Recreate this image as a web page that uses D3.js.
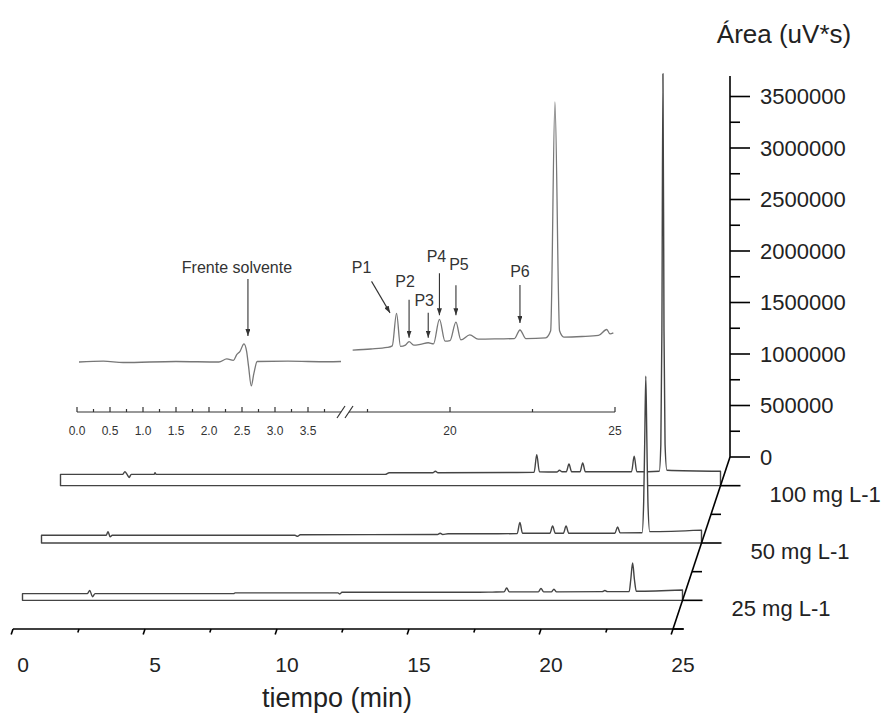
<!DOCTYPE html>
<html>
<head>
<meta charset="utf-8">
<script src="https://cdn.jsdelivr.net/npm/d3@7"></script>
<style>
  body { margin: 0; background: #fff; }
  text { font-family: "Liberation Sans", Arial, sans-serif; }
</style>
</head>
<body>
<div id="chart"></div>
<script>
// data
const timeTicks = [0, 5, 10, 15, 20, 25];
const areaTicks = [0, 500000, 1000000, 1500000, 2000000, 2500000, 3000000, 3500000];
const seriesNames = ["25 mg L-1", "50 mg L-1", "100 mg L-1"];

// [tiempo (min), area (uV*s)]
const trace25 = [[0,65000],[2.45,65000],[2.55,95000],[2.65,35000],[2.75,65000],[8.0,65000],[8.05,72000],
  [11.95,72000],[12.02,62000],[12.1,78000],[17.3,78000],[17.8,80000],[18.24,82000],[18.34,120000],[18.44,82000],
  [19.54,82000],[19.64,115000],[19.74,82000],[20.03,82000],[20.13,108000],[20.23,82000],[21.96,85000],
  [22.06,95000],[22.16,85000],[22.98,85000],[23.04,200000],[23.11,362000],[23.18,200000],[23.25,88000],[25,100000]];
const trace50 = [[0,75000],[2.45,75000],[2.52,110000],[2.6,60000],[2.68,75000],[9.6,75000],[9.7,65000],[9.8,80000],
  [15.0,82000],[15.1,95000],[15.2,82000],[15.4,90000],[17.3,90000],[18.02,92000],[18.12,200000],[18.22,95000],
  [19.26,95000],[19.36,165000],[19.46,95000],[19.77,95000],[19.87,165000],[19.97,95000],[21.72,95000],
  [21.82,155000],[21.92,98000],[22.75,100000],[22.81,400000],[22.85,1000000],[22.89,1620000],[22.93,1000000],
  [22.97,400000],[23.04,110000],[25,125000]];
const trace100 = [[0,110000],[2.35,110000],[2.44,135000],[2.52,110000],[2.6,80000],[2.68,110000],[3.55,110000],
  [3.58,125000],[3.62,110000],[12.3,110000],[12.45,125000],[14.1,125000],[14.2,140000],[14.3,125000],
  [17.0,128000],[17.94,130000],[18.04,300000],[18.14,135000],[18.8,132000],[18.9,150000],[19.0,135000],
  [19.16,135000],[19.26,210000],[19.36,135000],[19.68,135000],[19.78,220000],[19.88,135000],[21.63,135000],
  [21.73,285000],[21.83,135000],[22.68,140000],[22.74,400000],[22.78,1500000],[22.82,4000000],[22.86,1500000],
  [22.9,400000],[22.97,150000],[25,140000]];

// inset: [tiempo (min), respuesta]
const insetTicksA = [0, 0.5, 1.0, 1.5, 2.0, 2.5, 3.0, 3.5];
const insetTicksB = [20, 25];
const insetSolvent = [[0.03,0],[0.4,0.3],[0.7,-0.2],[1.5,0.2],[2.15,0],[2.27,1.2],[2.37,0.6],[2.42,2.8],
  [2.47,4.1],[2.53,7.0],[2.57,4.1],[2.6,-1.8],[2.64,-9.2],[2.68,-4.4],[2.73,0.2],[3.2,0.3],[3.8,0.1],[4.0,0.2]];
const insetPeaks = [[17.05,4.6],[17.6,5.0],[18.1,5.6],[18.25,6.2],[18.38,18.7],[18.5,6.0],[18.65,6.5],[18.76,7.8],
  [18.9,6.5],[19.1,6.8],[19.34,7.4],[19.5,7.0],[19.68,16.4],[19.85,8.0],[20.0,8.2],[20.18,15.3],[20.33,8.5],
  [20.6,10.4],[20.85,8.8],[21.5,8.9],[21.95,9.0],[22.12,12.3],[22.3,9.0],[22.9,9.3],[23.05,12],[23.18,100],
  [23.32,12],[23.45,9.6],[24.0,9.8],[24.5,10.2],[24.75,12.5],[24.85,10.8],[24.95,11.2]];
const peakNames = ["P1", "P2", "P3", "P4", "P5", "P6"];
const peakTimes = [18.38, 18.76, 19.34, 19.68, 20.18, 22.12];
const solventTime = 2.59;

// canvas
const width = 881, height = 713;
const svg = d3.select("#chart").append("svg")
    .attr("width", width)
    .attr("height", height);

// 3D oblique projection
const y0 = 629;
const xScale = d3.scaleLinear().domain([0, 25]).range([13, 673]);
const depthX = d3.scaleLinear().domain([0, 1]).range([0, 57]);
const depthY = d3.scaleLinear().domain([0, 1]).range([0, 172]);
const zScale = d3.scaleLinear().domain([0, 3500000]).range([0, 360.5]);
const px = (t, d) => xScale(t) + depthX(d);
const py = (d, z) => y0 - depthY(d) - zScale(z);

const depths = [1/6, 1/2, 5/6];
const traces = [trace25, trace50, trace100];

// arrow marker
svg.append("defs").append("marker")
    .attr("id", "arrow")
    .attr("viewBox", "0 0 10 10")
    .attr("refX", 10).attr("refY", 5)
    .attr("markerUnits", "userSpaceOnUse")
    .attr("markerWidth", 7).attr("markerHeight", 5)
    .attr("preserveAspectRatio", "none")
    .attr("orient", "auto")
    .append("path")
    .attr("d", "M0,0 L10,5 L0,10 Z")
    .attr("fill", "#333");

// ---- inset chromatogram ----
const inset = svg.append("g");
const ix1 = d3.scaleLinear().domain([0, 3.95]).range([77, 337.7]);
const ix2 = d3.scaleLinear().domain([17, 25]).range([351, 615]);
const iy = d3.scaleLinear().domain([0, 100]).range([362, 102]);
const axisY = 412;
const smooth = d3.curveMonotoneX;

inset.append("path")
    .attr("d", d3.line().curve(smooth).x(d => ix1(d[0])).y(d => iy(d[1]))(insetSolvent))
    .attr("fill", "none").attr("stroke", "#777").attr("stroke-width", 1.3);
inset.append("path")
    .attr("d", d3.line().curve(smooth).x(d => ix2(d[0])).y(d => iy(d[1]))(insetPeaks))
    .attr("fill", "none").attr("stroke", "#777").attr("stroke-width", 1.3);

// inset axis, broken
inset.append("line").attr("x1", ix1(0)).attr("x2", 341).attr("y1", axisY).attr("y2", axisY)
    .attr("stroke", "#333").attr("stroke-width", 1.2);
inset.append("line").attr("x1", 349).attr("x2", ix2(25)).attr("y1", axisY).attr("y2", axisY)
    .attr("stroke", "#333").attr("stroke-width", 1.2);
[337, 345].forEach(bx => {
    inset.append("line").attr("x1", bx).attr("y1", axisY + 6).attr("x2", bx + 8).attr("y2", axisY - 6)
        .attr("stroke", "#333").attr("stroke-width", 1.2);
});

const minorA = d3.range(0, 3.9, 0.25);
inset.selectAll(".tA").data(minorA).enter().append("line")
    .attr("x1", d => ix1(d)).attr("x2", d => ix1(d))
    .attr("y1", axisY).attr("y2", d => axisY - (d % 0.5 === 0 ? 5 : 3))
    .attr("stroke", "#333").attr("stroke-width", 1.2);
inset.selectAll(".tB").data([17.5, 20, 22.5, 25]).enter().append("line")
    .attr("x1", d => ix2(d)).attr("x2", d => ix2(d))
    .attr("y1", axisY).attr("y2", d => axisY - (d % 5 === 0 ? 5 : 3))
    .attr("stroke", "#333").attr("stroke-width", 1.2);

inset.selectAll(".lA").data(insetTicksA).enter().append("text")
    .attr("x", d => ix1(d)).attr("y", 435)
    .attr("text-anchor", "middle").attr("font-size", 12).attr("fill", "#333")
    .text(d => d3.format(".1f")(d));
inset.selectAll(".lB").data(insetTicksB).enter().append("text")
    .attr("x", d => ix2(d)).attr("y", 435)
    .attr("text-anchor", "middle").attr("font-size", 12).attr("fill", "#333")
    .text(d => d);

// solvent front annotation
const sx = ix1(solventTime);
inset.append("line").attr("x1", sx).attr("x2", sx).attr("y1", 279).attr("y2", 336)
    .attr("stroke", "#333").attr("stroke-width", 1.1).attr("marker-end", "url(#arrow)");
inset.append("text").attr("x", sx - 11).attr("y", 273)
    .attr("text-anchor", "middle").attr("font-size", 16).attr("fill", "#333")
    .text("Frente solvente");

// peak annotations: offsets from peak top (tip, tail, label)
const noteLayout = [
    { tip: [-6.5, -0.5], tail: [-25, -32], label: [-35, -40] },
    { tip: [0, -4], tail: [0, -42], label: [-4, -55] },
    { tip: [0, -5], tail: [0, -30], label: [-4, -37] },
    { tip: [0, -4], tail: [0, -46], label: [-3, -57] },
    { tip: [0, -7], tail: [0, -37], label: [3, -52] },
    { tip: [0, -7], tail: [0, -45], label: [0, -53] }
];
peakNames.forEach((name, i) => {
    const pk = insetPeaks.find(p => p[0] === peakTimes[i]);
    const x = ix2(pk[0]), y = iy(pk[1]);
    const L = noteLayout[i];
    inset.append("line")
        .attr("x1", x + L.tail[0]).attr("y1", y + L.tail[1])
        .attr("x2", x + L.tip[0]).attr("y2", y + L.tip[1])
        .attr("stroke", "#333").attr("stroke-width", 1.1).attr("marker-end", "url(#arrow)");
    inset.append("text")
        .attr("x", x + L.label[0]).attr("y", y + L.label[1])
        .attr("text-anchor", "middle").attr("font-size", 16).attr("fill", "#333")
        .text(name);
});

// ---- 3D ribbons, back to front ----
for (let i = traces.length - 1; i >= 0; i--) {
    const d = depths[i];
    const top = d3.line().curve(smooth).x(p => px(p[0], d)).y(p => py(d, p[1]))(traces[i]);
    svg.append("path")
        .attr("d", top + "L" + px(25, d) + "," + py(d, 0) + "L" + px(0, d) + "," + py(d, 0) + "Z")
        .attr("fill", "#fff")
        .attr("stroke", "#444")
        .attr("stroke-width", 1.4)
        .attr("stroke-linejoin", "round");
}

// ---- axes ----
const axes = svg.append("g").attr("stroke", "#000").attr("stroke-width", 1.6);

// time axis (front)
axes.append("line").attr("x1", xScale(0)).attr("x2", xScale(25) + 11).attr("y1", y0).attr("y2", y0);
const timeMinor = [2.5, 7.5, 12.5, 17.5, 22.5];
axes.selectAll(".tt").data(timeTicks.concat(timeMinor)).enter().append("line")
    .attr("x1", d => xScale(d)).attr("y1", y0)
    .attr("x2", d => xScale(d) - (timeTicks.includes(d) ? 1.8 : 1.2))
    .attr("y2", d => y0 + (timeTicks.includes(d) ? 5.5 : 3.5));
svg.selectAll(".tl").data(timeTicks).enter().append("text")
    .attr("x", d => xScale(d) + 10).attr("y", 672)
    .attr("text-anchor", "middle").attr("font-size", 21).attr("fill", "#222")
    .text(d => d);
svg.append("text").attr("x", 337).attr("y", 707)
    .attr("text-anchor", "middle").attr("font-size", 27).attr("fill", "#222")
    .text("tiempo (min)");

// depth axis
const dx0 = xScale(25);
axes.append("line")
    .attr("x1", dx0).attr("y1", y0)
    .attr("x2", dx0 + depthX(1)).attr("y2", y0 - depthY(1));
axes.selectAll(".dt").data(depths).enter().append("line")
    .attr("x1", d => dx0 + depthX(d)).attr("x2", d => dx0 + depthX(d) + 20)
    .attr("y1", d => y0 - depthY(d)).attr("y2", d => y0 - depthY(d));
axes.selectAll(".dm").data([0, 1/3, 2/3]).enter().append("line")
    .attr("x1", d => dx0 + depthX(d)).attr("x2", d => dx0 + depthX(d) + 10)
    .attr("y1", d => y0 - depthY(d)).attr("y2", d => y0 - depthY(d));
svg.selectAll(".dl").data(seriesNames).enter().append("text")
    .attr("x", (s, i) => dx0 + depthX(depths[i]) + 49)
    .attr("y", (s, i) => y0 - depthY(depths[i]) + 16)
    .attr("font-size", 22).attr("fill", "#222")
    .text(s => s);

// area axis (back, vertical)
const zx = dx0 + depthX(1), zy = y0 - depthY(1);
axes.append("line").attr("x1", zx).attr("x2", zx).attr("y1", zy).attr("y2", zy - zScale(3700000));
axes.selectAll(".zt").data(areaTicks).enter().append("line")
    .attr("x1", zx).attr("x2", zx + 20)
    .attr("y1", d => zy - zScale(d)).attr("y2", d => zy - zScale(d));
axes.selectAll(".zm").data(areaTicks.slice(0, -1).map(v => v + 250000)).enter().append("line")
    .attr("x1", zx).attr("x2", zx + 10)
    .attr("y1", d => zy - zScale(d)).attr("y2", d => zy - zScale(d));
svg.selectAll(".zl").data(areaTicks).enter().append("text")
    .attr("x", zx + 30).attr("y", d => zy - zScale(d))
    .attr("dy", "0.36em")
    .attr("font-size", 22).attr("fill", "#222")
    .text(d => d);
svg.append("text").attr("x", 784).attr("y", 43)
    .attr("text-anchor", "middle").attr("font-size", 26).attr("fill", "#222")
    .text("Área (uV*s)");
</script>
</body>
</html>
